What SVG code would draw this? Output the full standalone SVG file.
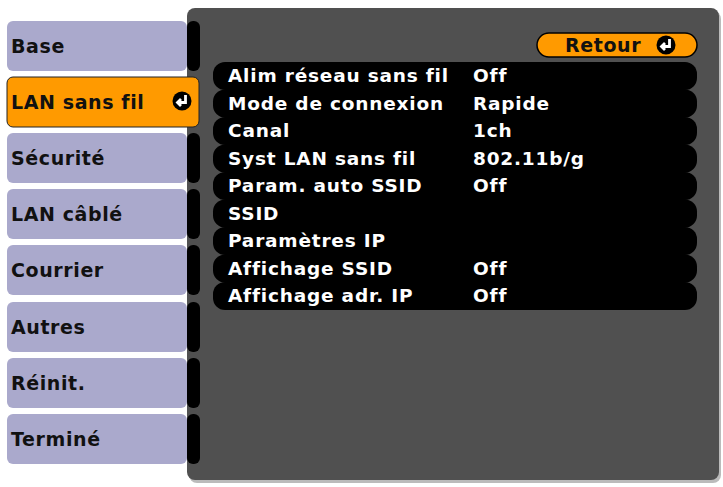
<svg xmlns="http://www.w3.org/2000/svg" width="723" height="487" viewBox="0 0 723 487">
<style>
.tab{fill:#aaa9cc}
.tt{font-family:"DejaVu Sans",sans-serif;font-size:19px;font-weight:bold;fill:#111;letter-spacing:0.6px}
.row{fill:#000}
.rt{font-family:"DejaVu Sans",sans-serif;font-size:18.5px;font-weight:bold;fill:#fff;letter-spacing:0.8px}
</style>
<defs>
<g id="enter"><circle r="9.5" fill="#000"/><path d="M3.5,-6 V1.5 H-4 M-1,-2 L-4.5,1.5 L-1,5" stroke="#fff" stroke-width="2.8" fill="none"/></g>
</defs>
<rect width="723" height="487" fill="#fff"/>
<g id="panel">
<rect x="189" y="11" width="532" height="472" rx="8" fill="#bbb"/>
<rect x="187" y="8" width="532" height="472" rx="8" fill="#505050"/>
</g>
<g id="tabs">
<g id="t1"><rect x="187" y="21" width="13" height="50" rx="6" fill="#000"/><rect class="tab" x="7" y="21" width="180" height="50" rx="6"/><text class="tt" x="11" y="53">Base</text></g>
<g id="t2"><rect x="7" y="77" width="192" height="50" rx="6" fill="#ff9a00" stroke="#222" stroke-width="1"/><text class="tt" x="11" y="109">LAN sans fil</text><use href="#enter" x="182" y="101"/></g>
<g id="t3"><rect x="187" y="133" width="13" height="50" rx="6" fill="#000"/><rect class="tab" x="7" y="133" width="180" height="50" rx="6"/><text class="tt" x="11" y="165">Sécurité</text></g>
<g id="t4"><rect x="187" y="189" width="13" height="50" rx="6" fill="#000"/><rect class="tab" x="7" y="189" width="180" height="50" rx="6"/><text class="tt" x="11" y="221">LAN câblé</text></g>
<g id="t5"><rect x="187" y="245" width="13" height="50" rx="6" fill="#000"/><rect class="tab" x="7" y="245" width="180" height="50" rx="6"/><text class="tt" x="11" y="277">Courrier</text></g>
<g id="t6"><rect x="187" y="302" width="13" height="50" rx="6" fill="#000"/><rect class="tab" x="7" y="302" width="180" height="50" rx="6"/><text class="tt" x="11" y="334">Autres</text></g>
<g id="t7"><rect x="187" y="358" width="13" height="50" rx="6" fill="#000"/><rect class="tab" x="7" y="358" width="180" height="50" rx="6"/><text class="tt" x="11" y="390">Réinit.</text></g>
<g id="t8"><rect x="187" y="414" width="13" height="50" rx="6" fill="#000"/><rect class="tab" x="7" y="414" width="180" height="50" rx="6"/><text class="tt" x="11" y="446">Terminé</text></g>
</g>
<g id="retour">
<rect x="537" y="33" width="160" height="24" rx="12" fill="#ff9a00" stroke="#000" stroke-width="1.5"/>
<text class="tt" x="565" y="52">Retour</text>
<use href="#enter" x="666" y="45"/>
</g>
<g id="rows">
<rect class="row" x="213" y="62" width="484" height="28" rx="12"/>
<rect class="row" x="213" y="89.5" width="484" height="28" rx="12"/>
<rect class="row" x="213" y="117" width="484" height="28" rx="12"/>
<rect class="row" x="213" y="144.5" width="484" height="28" rx="12"/>
<rect class="row" x="213" y="172" width="484" height="28" rx="12"/>
<rect class="row" x="213" y="199.5" width="484" height="28" rx="12"/>
<rect class="row" x="213" y="227" width="484" height="28" rx="12"/>
<rect class="row" x="213" y="254.5" width="484" height="28" rx="12"/>
<rect class="row" x="213" y="282" width="484" height="28" rx="12"/>
<text class="rt" x="228" y="82">Alim réseau sans fil</text><text class="rt" x="473" y="82">Off</text>
<text class="rt" x="228" y="110">Mode de connexion</text><text class="rt" x="473" y="110">Rapide</text>
<text class="rt" x="228" y="137">Canal</text><text class="rt" x="473" y="137">1ch</text>
<text class="rt" x="228" y="165">Syst LAN sans fil</text><text class="rt" x="473" y="165">802.11b/g</text>
<text class="rt" x="228" y="192">Param. auto SSID</text><text class="rt" x="473" y="192">Off</text>
<text class="rt" x="228" y="220">SSID</text>
<text class="rt" x="228" y="247">Paramètres IP</text>
<text class="rt" x="228" y="275">Affichage SSID</text><text class="rt" x="473" y="275">Off</text>
<text class="rt" x="228" y="302">Affichage adr. IP</text><text class="rt" x="473" y="302">Off</text>
</g>
</svg>
